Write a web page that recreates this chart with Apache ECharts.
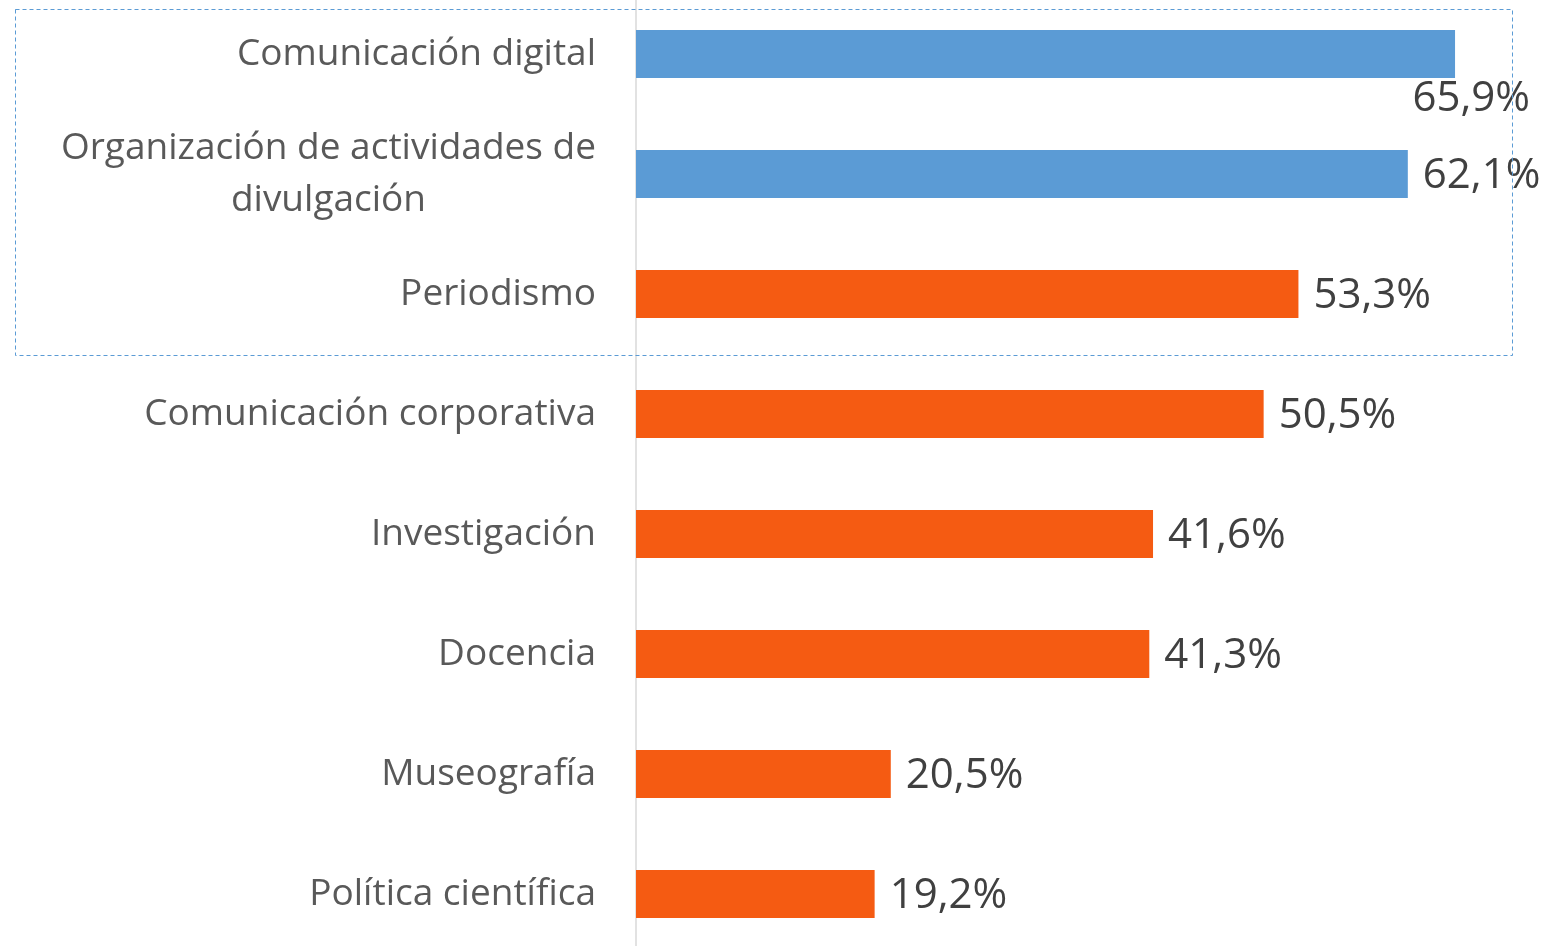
<!DOCTYPE html>
<html>
<head>
<meta charset="utf-8">
<script src="https://cdn.jsdelivr.net/npm/echarts@6/dist/echarts.min.js"></script>
<style>
  html, body { margin: 0; padding: 0; background: #fff; }
  #chart { width: 1544px; height: 946px; }
</style>
</head>
<body>
<div id="chart"></div>
<script>
const categories = [
  'Comunicación digital',
  'Organización de actividades de\ndivulgación',
  'Periodismo',
  'Comunicación corporativa',
  'Investigación',
  'Docencia',
  'Museografía',
  'Política científica'
];
const values = [65.9, 62.1, 53.3, 50.5, 41.6, 41.3, 20.5, 19.2];
const highlighted = [true, true, false, false, false, false, false, false];

const blue = '#5b9bd5';
const orange = '#f55b12';
const font = 'Open Sans';

var dom = document.getElementById('chart');
var myChart = echarts.init(dom, null, { renderer: 'canvas' });

var barData = values.map(function (v, i) {
  var item = { value: v, itemStyle: { color: highlighted[i] ? blue : orange } };
  if (i === 0) {
    // first label sits under the bar end, like the original
    item.label = { position: 'insideBottomRight', offset: [90, 57] };
  }
  return item;
});

var option = {
  animation: false,
  grid: {
    left: 636, right: 38, top: -6, height: 960,
    containLabel: false,
    outerBoundsMode: 'none'
  },
  xAxis: {
    type: 'value',
    min: 0,
    max: 70,
    show: false
  },
  yAxis: {
    type: 'category',
    inverse: true,
    data: categories,
    axisTick: { show: false },
    axisLine: { lineStyle: { color: '#d9d9d9', width: 1.5 } },
    axisLabel: {
      margin: 40,
      color: '#595959',
      fontFamily: font,
      fontSize: 37,
      formatter: function (v) {
        var parts = v.split('\n');
        if (parts.length === 1) return v;
        return parts.map(function (p) { return '{c|' + p + '}'; }).join('\n');
      },
      rich: {
        c: { align: 'center', color: '#595959', fontFamily: font, fontSize: 37, lineHeight: 52 }
      }
    }
  },
  series: [{
    type: 'bar',
    data: barData,
    barWidth: 48,
    label: {
      show: true,
      position: 'right',
      distance: 15,
      offset: [0, 2],
      color: '#404040',
      fontFamily: font,
      fontSize: 42,
      formatter: function (p) {
        return p.value.toFixed(1).replace('.', ',') + '%';
      }
    }
  }],
  graphic: [{
    type: 'rect',
    silent: true,
    shape: { x: 15.5, y: 9.5, width: 1497, height: 346 },
    style: { fill: 'none', stroke: blue, lineWidth: 1, lineDash: [4, 3] },
    z: 10
  }]
};

if (option && typeof option === 'object') {
  myChart.setOption(option);
}

window.addEventListener('resize', myChart.resize);
</script>
</body>
</html>
